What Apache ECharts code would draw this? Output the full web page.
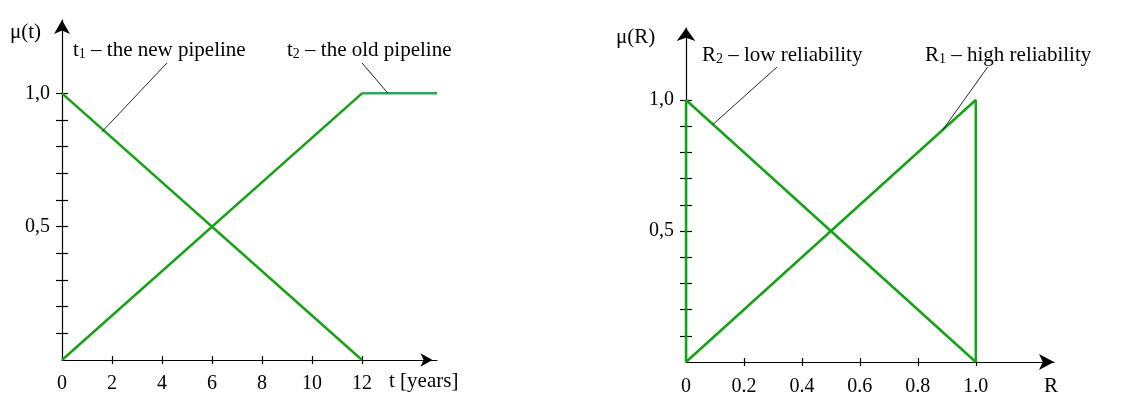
<!DOCTYPE html>
<html>
<head>
<meta charset="utf-8">
<script src="https://cdn.jsdelivr.net/npm/echarts@6/dist/echarts.min.js"></script>
<style>
  html, body { margin: 0; padding: 0; background: #fff; }
  #chart { width: 1126px; height: 394px; }
</style>
</head>
<body>
<div id="chart"></div>
<script>
// left chart: membership in time t
const tYearTicks = [2, 4, 6, 8, 10, 12];
const tYearLabels = [0, 2, 4, 6, 8, 10, 12];
const muTicks = [0.1, 0.2, 0.3, 0.4, 0.5, 0.6, 0.7, 0.8, 0.9, 1.0];
const muLabels = [0.5, 1.0];
const t1New = [[0, 1], [12, 0]];
const t2OldRise = [[0, 0], [12, 1]];
const t2OldFlat = [[12, 1], [15, 1]];
const t1Pointer = [[1.6, 0.856], [4.2, 1.114]];
const t2Pointer = [[13.04, 1], [12.0, 1.114]];

// right chart: membership in reliability R
const rTicks = [0.2, 0.4, 0.6, 0.8, 1.0];
const rLabels = [0, 0.2, 0.4, 0.6, 0.8, 1.0];
const r2Low = [[0, 0], [0, 1], [1, 0]];
const r1High = [[0, 0], [1, 1], [1, 0]];
const r2Pointer = [[0.093, 0.907], [0.314, 1.126]];
const r1Pointer = [[0.886, 0.886], [1.041, 1.126]];

const FONT = "'Liberation Serif', 'Times New Roman', serif";
const GREEN = '#15a315';
const GREEN_LIGHT = '#32a45c';

const chart = echarts.init(document.getElementById('chart'));

const axisLine = (offset, size) => ({
  show: true,
  symbol: ['none', 'arrow'],
  symbolSize: size,
  symbolOffset: [0, offset],
  lineStyle: { color: '#000', width: 1.2 }
});

const commaFmt = v => v.toFixed(1).replace('.', ',');
const dotFmt = v => (v === 0 ? '0' : v.toFixed(1));

function mainX(grid, max, ticks, labels, fmt, offset, size, margin) {
  return {
    type: 'value', gridIndex: grid, position: 'bottom', min: 0, max: max,
    axisLine: axisLine(offset, size),
    axisTick: { show: true, length: 4, customValues: ticks, lineStyle: { color: '#000', width: 1.2 } },
    axisLabel: { show: true, customValues: labels, formatter: fmt, margin: margin,
      fontFamily: FONT, fontSize: 20, color: '#000' },
    splitLine: { show: false }
  };
}
// second axis on the same scale, only to draw the tick halves above the line
function innerX(grid, max, ticks) {
  return {
    type: 'value', gridIndex: grid, position: 'bottom', offset: 0, min: 0, max: max,
    axisLine: { show: false },
    axisTick: { show: true, inside: true, length: 4, customValues: ticks, lineStyle: { color: '#000', width: 1.2 } },
    axisLabel: { show: false },
    splitLine: { show: false }
  };
}
function mainY(grid, max, ticks, labels, offset, size) {
  return {
    type: 'value', gridIndex: grid, position: 'left', min: 0, max: max,
    axisLine: axisLine(offset, size),
    axisTick: { show: true, length: 6, customValues: ticks, lineStyle: { color: '#000', width: 1.2 } },
    axisLabel: { show: true, customValues: labels, formatter: commaFmt, margin: 12,
      fontFamily: FONT, fontSize: 20, color: '#000' },
    splitLine: { show: false }
  };
}
function innerY(grid, max, ticks) {
  return {
    type: 'value', gridIndex: grid, position: 'left', offset: 0, min: 0, max: max,
    axisLine: { show: false },
    axisTick: { show: true, inside: true, length: 6, customValues: ticks, lineStyle: { color: '#000', width: 1.2 } },
    axisLabel: { show: false },
    splitLine: { show: false }
  };
}

function curve(x, y, data, color, width, z) {
  return {
    type: 'line', xAxisIndex: x, yAxisIndex: y, data: data,
    symbol: 'none', silent: true, z: z || 3,
    lineStyle: { color: color, width: width }
  };
}

const labelStyle = (text, x, y) => ({
  type: 'text', x: x, y: y, silent: true,
  style: {
    text: text, fill: '#000', font: '21px ' + FONT,
    textVerticalAlign: 'middle',
    rich: {
      s: { fontSize: 14, fontFamily: FONT, verticalAlign: 'bottom', padding: [8, 0, 0, 0] }
    }
  }
});

const option = {
  animation: false,
  backgroundColor: '#fff',
  grid: [
    { left: 62, top: 20, width: 375, height: 340, outerBoundsMode: 'none' },
    { left: 686, top: 28, width: 368, height: 334, outerBoundsMode: 'none' }
  ],
  xAxis: [
    mainX(0, 15, tYearTicks, tYearLabels, v => String(v), -4.5, [10, 12], 14),
    innerX(0, 15, tYearTicks),
    mainX(1, 1.27, rTicks, rLabels, dotFmt, 0, [12, 15], 15),
    innerX(1, 1.27, rTicks)
  ],
  yAxis: [
    mainY(0, 1.275, muTicks, muLabels, 0, [12, 14]),
    innerY(0, 1.275, muTicks),
    mainY(1, 1.275, muTicks, muLabels, 0, [14, 13]),
    innerY(1, 1.275, muTicks)
  ],
  series: [
    curve(0, 0, t1New, GREEN, 2.5),
    curve(0, 0, t2OldRise, GREEN, 2.5),
    curve(0, 0, t2OldFlat, GREEN_LIGHT, 2.5),
    curve(0, 0, t1Pointer, '#111', 0.9, 4),
    curve(0, 0, t2Pointer, '#111', 0.9, 4),
    curve(2, 2, r2Low, GREEN, 2.5),
    curve(2, 2, r1High, GREEN, 2.5),
    curve(2, 2, r2Pointer, '#111', 0.9, 4),
    curve(2, 2, r1Pointer, '#111', 0.9, 4)
  ],
  graphic: [
    { type: 'text', x: 10, y: 32, silent: true,
      style: { text: 'μ(t)', fill: '#000', font: '21px ' + FONT, textVerticalAlign: 'middle' } },
    { type: 'text', x: 389, y: 381, silent: true,
      style: { text: 't [years]', fill: '#000', font: '21px ' + FONT, textVerticalAlign: 'middle' } },
    { type: 'text', x: 616, y: 37, silent: true,
      style: { text: 'μ(R)', fill: '#000', font: '21px ' + FONT, textVerticalAlign: 'middle' } },
    { type: 'text', x: 1044, y: 386, silent: true,
      style: { text: 'R', fill: '#000', font: '21px ' + FONT, textVerticalAlign: 'middle' } },
    labelStyle('t{s|1} – the new pipeline', 73, 50),
    labelStyle('t{s|2} – the old pipeline', 287, 50),
    labelStyle('R{s|2} – low reliability', 702, 55),
    labelStyle('R{s|1} – high reliability', 925, 55)
  ]
};

chart.setOption(option);
</script>
</body>
</html>
